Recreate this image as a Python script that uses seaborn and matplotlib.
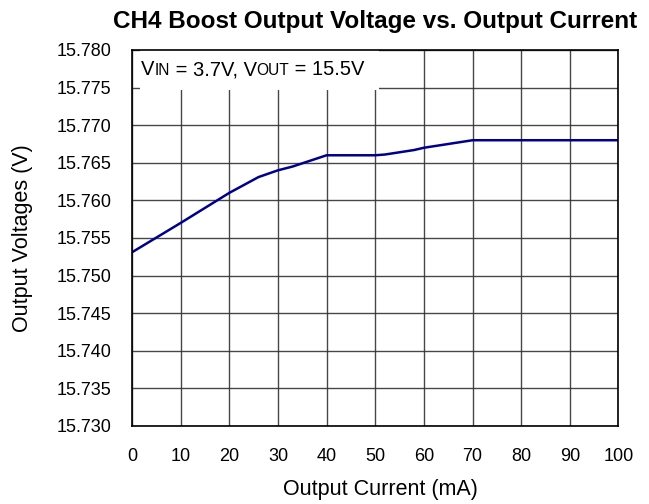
import matplotlib
matplotlib.use("Agg")
import matplotlib.pyplot as plt
import seaborn as sns
import pandas as pd
from matplotlib.offsetbox import TextArea, HPacker, AnchoredOffsetbox
from matplotlib.patches import Rectangle

# Output current (mA) and measured output voltage (V)
current_ma = [0, 10, 20, 26, 30, 33, 40, 50, 52, 58, 60, 70, 80, 90, 100]
voltage_v = [15.7531, 15.7570, 15.7610, 15.7631, 15.7640, 15.7645, 15.7660,
             15.7660, 15.7661, 15.7667, 15.7670, 15.7680, 15.7680, 15.7680, 15.7680]

x_ticks = [0, 10, 20, 30, 40, 50, 60, 70, 80, 90, 100]
y_ticks = [15.730, 15.735, 15.740, 15.745, 15.750, 15.755, 15.760,
           15.765, 15.770, 15.775, 15.780]

title = "CH4 Boost Output Voltage vs. Output Current"
x_label = "Output Current (mA)"
y_label = "Output Voltages (V)"

sns.set_theme(style="white")
plt.rcParams["font.family"] = ["Liberation Sans", "DejaVu Sans"]
plt.rcParams["text.color"] = "black"
plt.rcParams["axes.labelcolor"] = "black"

df = pd.DataFrame({"current": current_ma, "voltage": voltage_v})

fig = plt.figure(figsize=(6.49, 5.04), dpi=100)
ax = fig.add_axes([0.2034, 0.1548, 0.7496, 0.746])

sns.lineplot(data=df, x="current", y="voltage", ax=ax, color="#00008C",
             linewidth=1.8, zorder=4)

ax.set_xlim(0, 100)
ax.set_ylim(15.730, 15.780)
ax.set_xticks(x_ticks)
ax.set_yticks(y_ticks)
ax.set_xticklabels([str(t) for t in x_ticks])
ax.set_yticklabels([f"{t:.3f}" for t in y_ticks])
ax.tick_params(axis="both", length=0, labelsize=13, colors="black")
ax.tick_params(axis="x", pad=15.5)
ax.tick_params(axis="y", pad=15)

ax.grid(True, color="#333333", linewidth=1.0, alpha=0.9)
ax.set_axisbelow(True)
for s in ax.spines.values():
    s.set_color("black")
    s.set_linewidth(1.2)
    s.set_zorder(6)

ax.set_xlabel(x_label, fontsize=15.5)
ax.set_ylabel(y_label, fontsize=15.5)
ax.xaxis.set_label_coords(0.51, -0.142)
ax.yaxis.set_label_coords(-0.203, 0.5)
ax.set_title(title, fontsize=17.5, fontweight="bold", pad=16)

# White panel behind the operating-condition note
ax.add_patch(Rectangle((0.0165, 0.893), 0.492, 0.107, transform=ax.transAxes,
                       facecolor="white", edgecolor="none", zorder=3))

big = dict(size=14.5, color="black")
small = dict(size=11.2, color="black")
parts = [TextArea("V", textprops=big), TextArea("IN", textprops=small),
         TextArea(" = 3.7V, V", textprops=big), TextArea("OUT", textprops=small),
         TextArea(" = 15.5V", textprops=big)]
note = HPacker(children=parts, align="baseline", pad=0, sep=0)
anchored = AnchoredOffsetbox(loc="upper left", child=note, frameon=False,
                             bbox_to_anchor=(0.018, 0.973),
                             bbox_transform=ax.transAxes, borderpad=0, pad=0)
anchored.set_zorder(5)
ax.add_artist(anchored)

fig.savefig("out.png", dpi=100)
